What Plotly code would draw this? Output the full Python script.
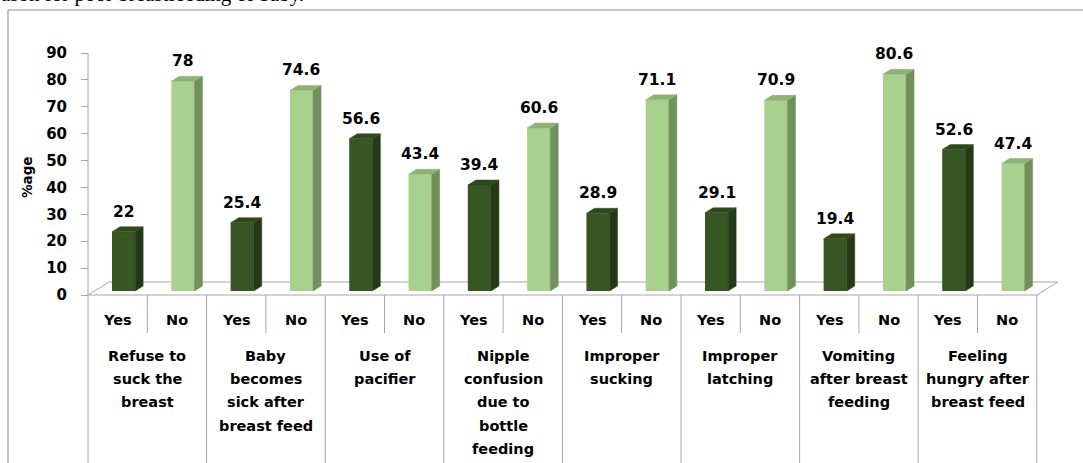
import plotly.graph_objects as go

# ---------------- data ----------------
groups = [
    ["Refuse to", "suck the", "breast"],
    ["Baby", "becomes", "sick after", "breast feed"],
    ["Use of", "pacifier"],
    ["Nipple", "confusion", "due to", "bottle", "feeding"],
    ["Improper", "sucking"],
    ["Improper", "latching"],
    ["Vomiting", "after breast", "feeding"],
    ["Feeling", "hungry after", "breast feed"],
]
sub_labels = ["Yes", "No"]
yes_vals = [22, 25.4, 56.6, 39.4, 28.9, 29.1, 19.4, 52.6]
no_vals = [78, 74.6, 43.4, 60.6, 71.1, 70.9, 80.6, 47.4]
y_ticks = [0, 10, 20, 30, 40, 50, 60, 70, 80, 90]
y_title = "%age"
top_text = "ason for poor breastfeeding of baby."

# ---------------- geometry / style constants ----------------
W, H = 1083, 463
AXIS_PX = 88          # pixel x of the value axis
ZERO_PX = 295         # pixel y of value 0 (front plane)
PXU = 242 / 90        # pixels per value unit
SLOT = 59.3           # pixels per bar slot
MARGIN_L = 60
PW = W - MARGIN_L
XMIN = -0.5 - (AXIS_PX - MARGIN_L) / SLOT
XMAX = XMIN + PW / SLOT
YMIN = -(H - ZERO_PX) / PXU
YMAX = ZERO_PX / PXU

def ypx(p):  # pixel row -> data y
    return (ZERO_PX - p) / PXU

BASE = 4 / PXU        # bars sit slightly behind the front plane
OFF = 0.1             # bar offset in slot (3D perspective)
BW = 0.39             # bar front width
DX = 8 / SLOT         # depth x
DY = 5 / PXU          # depth y
FDX = 21 / SLOT       # floor depth x
FDY = 13 / PXU        # floor depth y

DARK = dict(front="#375623", side="#243a16", top="#2e4a1d")
LIGHT = dict(front="#a9d18e", side="#71905b", top="#8db275")
GRID = "#a6a6a6"
FONT = "DejaVu Sans"

fig = go.Figure()

def add_series(vals, idx, col):
    xs = [2 * g + idx + OFF for g in range(len(vals))]
    fig.add_trace(go.Bar(x=xs, y=vals, base=BASE, width=BW,
                         marker=dict(color=col["front"], line=dict(width=0)),
                         hoverinfo="skip", showlegend=False))
    sx, sy, tx, ty = [], [], [], []
    for x, v in zip(xs, vals):
        xl, xr, top = x - BW / 2, x + BW / 2, BASE + v
        sx += [xr, xr + DX, xr + DX, xr, xr, None]
        sy += [BASE, BASE + DY, top + DY, top, BASE, None]
        tx += [xl, xl + DX, xr + DX, xr, xl, None]
        ty += [top, top + DY, top + DY, top, top, None]
    for px_, py_, c in ((sx, sy, col["side"]), (tx, ty, col["top"])):
        fig.add_trace(go.Scatter(x=px_, y=py_, mode="lines", fill="toself",
                                 fillcolor=c, line=dict(width=0.5, color=c),
                                 hoverinfo="skip", showlegend=False))
    for x, v in zip(xs, vals):
        fig.add_annotation(x=x, y=BASE + v, text=str(v), showarrow=False,
                           yshift=20, yanchor="middle", xanchor="center",
                           font=dict(family=FONT, size=15.5, color="black", weight="bold"))

add_series(yes_vals, 0, DARK)
add_series(no_vals, 1, LIGHT)

n = len(groups)
x_lo, x_hi = -0.5, 2 * n - 0.5

# floor
fig.add_shape(type="path", xref="x", yref="y", layer="below",
              path=(f"M {x_lo},0 L {x_hi},0 L {x_hi + FDX},{FDY} "
                    f"L {x_lo + FDX},{FDY} Z"),
              line=dict(color=GRID, width=1), fillcolor="white")
# value axis line
fig.add_shape(type="line", xref="x", yref="y", x0=x_lo, x1=x_lo, y0=0, y1=y_ticks[-1],
              line=dict(color=GRID, width=1))

# category dividers
for g in range(n + 1):
    fig.add_shape(type="line", xref="x", yref="y", x0=2 * g - 0.5, x1=2 * g - 0.5,
                  y0=0, y1=YMIN, line=dict(color=GRID, width=1))
for g in range(n):
    fig.add_shape(type="line", xref="x", yref="y", x0=2 * g + 0.5, x1=2 * g + 0.5,
                  y0=0, y1=ypx(333), line=dict(color=GRID, width=1))

# category labels
for g, lines in enumerate(groups):
    for k, s in enumerate(sub_labels):
        fig.add_annotation(x=2 * g + k, y=ypx(320), text=s, showarrow=False,
                           xanchor="center",
                           font=dict(family=FONT, size=14.5, color="black", weight="bold"))
    for j, line in enumerate(lines):
        fig.add_annotation(x=2 * g + 0.5, y=ypx(356 + 23.2 * j), text=line, showarrow=False,
                           xanchor="center",
                           font=dict(family=FONT, size=14.5, color="black", weight="bold"))

# y title
fig.add_annotation(xref="paper", yref="y", x=(27 - MARGIN_L) / PW, y=ypx(178),
                   text=y_title, textangle=-90, showarrow=False,
                   xanchor="center", yanchor="middle",
                   font=dict(family=FONT, size=13.5, color="black", weight="bold"))

# outer frame
fig.add_shape(type="rect", xref="paper", yref="paper",
              x0=(8 - MARGIN_L) / PW, x1=1.2, y0=-0.2, y1=1 - 10 / H,
              line=dict(color="#8c8c8c", width=1), fillcolor="rgba(0,0,0,0)")

# clipped heading text
fig.add_annotation(xref="paper", yref="paper", x=(0 - MARGIN_L) / PW, y=1,
                   xanchor="left", yanchor="bottom", yshift=-7, borderpad=0,
                   text=top_text, showarrow=False,
                   font=dict(family="Liberation Serif", size=21, color="black"))

fig.update_layout(
    width=W, height=H, margin=dict(l=MARGIN_L, r=0, t=0, b=0),
    paper_bgcolor="white", plot_bgcolor="white", showlegend=False,
    xaxis=dict(range=[XMIN, XMAX], visible=False),
    yaxis=dict(range=[YMIN, YMAX], anchor="free", position=(AXIS_PX - MARGIN_L) / PW,
               tickvals=y_ticks, ticks="outside", ticklen=7, tickcolor=GRID,
               showgrid=False, zeroline=False, showline=False,
               ticklabelstandoff=11,
               tickfont=dict(family=FONT, size=15, color="black", weight="bold")),
)

fig.write_html("out.html")
